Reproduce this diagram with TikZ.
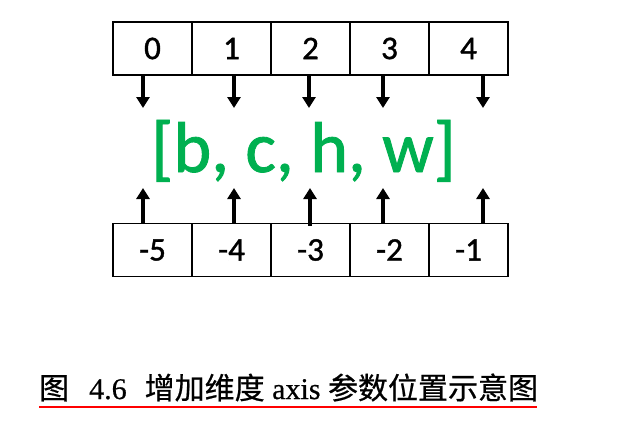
\documentclass[tikz,border=0pt]{standalone}
\usepackage{fontspec}
\setmainfont{Liberation Serif}[FakeBold=0.6]
\newfontfamily\cjk{Noto Sans CJK SC}[FakeBold=0.6]
\newfontfamily\calib{Carlito}[FakeBold=1.2]
\definecolor{axGreen}{HTML}{00B050}
\definecolor{axLine}{HTML}{FF0000}
\usetikzlibrary{arrows.meta}

\begin{document}
\begin{tikzpicture}[x=1pt, y=-1pt,
  cell/.style={draw, line width=1.3pt, minimum width=79pt, minimum height=53pt,
    inner sep=0pt, font=\calib\fontsize{33}{36}\selectfont},
  arr/.style={-{Triangle[length=11pt, width=13pt]}, line width=3.5pt}
]
  \useasboundingbox (0,0) rectangle (622,426);

  % positive indices
  \node[cell] (p0) at (152.5,48.5) {0};
  \node[cell] (p1) at (231.5,48.5) {1};
  \node[cell] (p2) at (310.5,48.5) {2};
  \node[cell] (p3) at (389.5,48.5) {3};
  \node[cell] (p4) at (468.5,48.5) {4};

  % negative indices
  \node[cell] (n5) at (152.5,250) {-5};
  \node[cell] (n4) at (231.5,250) {-4};
  \node[cell] (n3) at (310.5,250) {-3};
  \node[cell] (n2) at (389.5,250) {-2};
  \node[cell] (n1) at (468.5,250) {-1};

  \node[text=axGreen, font=\calib\fontsize{72}{80}\selectfont, anchor=base, inner sep=0pt]
    (shape) at (303.5,172) {[b, c, h, w]};

  % arrow tips
  \coordinate (d0) at (143,108);
  \coordinate (d1) at (234,108);
  \coordinate (d2) at (309,108);
  \coordinate (d3) at (383,108);
  \coordinate (d4) at (483,108);
  \coordinate (u5) at (143,188);
  \coordinate (u4) at (234,188);
  \coordinate (u3) at (310,188);
  \coordinate (u2) at (383,188);
  \coordinate (u1) at (483,188);

  \draw[arr] (d0 |- p0.south) -- (d0);
  \draw[arr] (d1 |- p1.south) -- (d1);
  \draw[arr] (d2 |- p2.south) -- (d2);
  \draw[arr] (d3 |- p3.south) -- (d3);
  \draw[arr] (d4 |- p4.south) -- (d4);

  \draw[arr] (u5 |- n5.north) -- (u5);
  \draw[arr] (u4 |- n4.north) -- (u4);
  \draw[arr] ([yshift=-3pt]u3 |- n3.north) -- (u3);
  \draw[arr] (u2 |- n2.north) -- (u2);
  \draw[arr] (u1 |- n1.north) -- (u1);

  % caption
  \node[anchor=base west, inner sep=0pt, font=\fontsize{30}{33}\selectfont] (cap) at (39,399)
    {{\cjk 图}\hspace{20pt}4.6\hspace{18pt}{\cjk 增加维度} axis {\cjk 参数位置示意图}};
  \draw[axLine, line width=2.5pt] (cap.base west) ++(0,8) -- ++(498,0);
\end{tikzpicture}
\end{document}
